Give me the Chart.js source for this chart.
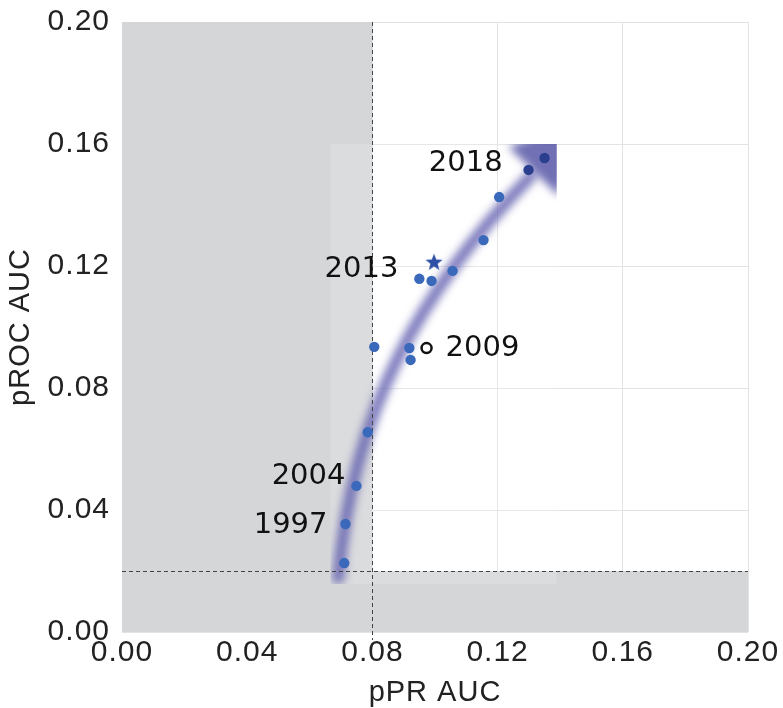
<!DOCTYPE html>
<html>
<head>
<meta charset="utf-8">
<script src="https://cdn.jsdelivr.net/npm/chart.js@4/dist/chart.umd.min.js"></script>
<style>
  html, body { margin: 0; padding: 0; background: #fff; }
  canvas { display: block; }
</style>
</head>
<body>
<canvas id="c" width="783" height="708"></canvas>
<script>
// Yearly benchmark results: pPR AUC (x) vs pROC AUC (y)
const pprAuc  = [0.0710, 0.0714, 0.0749, 0.0785, 0.0806, 0.0918, 0.0922, 0.0950, 0.0989, 0.1056, 0.1155, 0.1205, 0.1299, 0.1350];
const procAuc = [0.0226, 0.0354, 0.0479, 0.0655, 0.0935, 0.0931, 0.0892, 0.1158, 0.1151, 0.1184, 0.1285, 0.1426, 0.1515, 0.1554];

// Highlighted entries
const openX = [0.0973];
const openY = [0.0931];
const starX = [0.0997];
const starY = [0.1214];

// Random-baseline thresholds
const baselinePPR = 0.08;
const baselineROC = 0.02;

// Trend arrow: cubic Bezier control points (data coordinates) and its head
const trendX = [0.0691, 0.0736, 0.0954, 0.1306];
const trendY = [0.0177, 0.0728, 0.1121, 0.1495];
const headX = [0.1466, 0.1235, 0.1395];
const headY = [0.1679, 0.1590, 0.1430];
// Extent of the arrow inset
const insetX = [0.0666, 0.1389];
const insetY = [0.0157, 0.1600];

// Year annotations: text and which point they describe
const yearLabels = ['2018', '2013', '2009', '2004', '1997'];
const yearSource = [
  {set: 0, idx: 12}, {set: 0, idx: 7}, {set: 1, idx: 0}, {set: 0, idx: 2}, {set: 0, idx: 1}
];

const tickValues = [0, 0.04, 0.08, 0.12, 0.16, 0.20];

const pointsTable = pprAuc.map((x, i) => ({x, y: procAuc[i]}));
const openTable = openX.map((x, i) => ({x, y: openY[i]}));
const starTable = starX.map((x, i) => ({x, y: starY[i]}));

// filled five-point star as a point style
function makeStar(size, color) {
  const cv = document.createElement('canvas');
  cv.width = size; cv.height = size;
  const g = cv.getContext('2d');
  const cx = size / 2, cy = size / 2 + size * 0.05, R = size / 2, r = R * 0.42;
  g.beginPath();
  for (let k = 0; k < 10; k++) {
    const rad = k % 2 === 0 ? R : r;
    const a = -Math.PI / 2 + k * Math.PI / 5;
    const px = cx + rad * Math.cos(a), py = cy + rad * Math.sin(a);
    k === 0 ? g.moveTo(px, py) : g.lineTo(px, py);
  }
  g.closePath();
  g.fillStyle = color;
  g.fill();
  return cv;
}

// slightly spaced axis lettering
const spacing = {
  id: 'spacing',
  beforeDraw(chart) { chart.ctx.letterSpacing = '1px'; },
  beforeDatasetsDraw(chart) { chart.ctx.letterSpacing = '0px'; }
};

const backdrop = {
  id: 'backdrop',
  beforeDatasetsDraw(chart) {
    const {ctx, chartArea: a, scales: {x, y}} = chart;
    const X = v => x.getPixelForValue(v), Y = v => y.getPixelForValue(v);
    ctx.save();
    // shaded regions below the baselines
    ctx.fillStyle = '#d5d6d8';
    ctx.fillRect(a.left, a.top, X(baselinePPR) - a.left, a.bottom - a.top);
    ctx.fillRect(a.left, Y(baselineROC), a.right - a.left, a.bottom - Y(baselineROC));
    // arrow inset
    const ix0 = X(insetX[0]), ix1 = X(insetX[1]), iy0 = Y(insetY[1]), iy1 = Y(insetY[0]);
    ctx.fillStyle = 'rgba(255,255,255,0.16)';
    ctx.fillRect(ix0, iy0, ix1 - ix0, iy1 - iy0);
    ctx.beginPath();
    ctx.rect(ix0, iy0, ix1 - ix0, iy1 - iy0);
    ctx.clip();
    ctx.filter = 'blur(4px)';
    // shaft
    const p = trendX.map((v, i) => [X(v), Y(trendY[i])]);
    ctx.beginPath();
    ctx.moveTo(p[0][0], p[0][1]);
    ctx.bezierCurveTo(p[1][0], p[1][1], p[2][0], p[2][1], p[3][0], p[3][1]);
    ctx.strokeStyle = 'rgba(88,86,170,0.78)';
    ctx.lineWidth = 12;
    ctx.lineCap = 'round';
    ctx.stroke();
    // head
    ctx.beginPath();
    headX.forEach((v, i) => i === 0 ? ctx.moveTo(X(v), Y(headY[i])) : ctx.lineTo(X(v), Y(headY[i])));
    ctx.closePath();
    ctx.fillStyle = 'rgba(82,80,164,0.82)';
    ctx.fill();
    ctx.restore();

    // baseline dashed lines
    ctx.save();
    ctx.strokeStyle = '#444';
    ctx.lineWidth = 1;
    ctx.setLineDash([4, 3]);
    ctx.beginPath();
    ctx.moveTo(Math.round(X(baselinePPR)) + 0.5, a.top);
    ctx.lineTo(Math.round(X(baselinePPR)) + 0.5, a.bottom + 8);
    ctx.moveTo(a.left, Math.round(Y(baselineROC)) + 0.5);
    ctx.lineTo(a.right, Math.round(Y(baselineROC)) + 0.5);
    ctx.stroke();
    ctx.restore();
  },
  afterDatasetsDraw(chart, args, opts) {
    const {ctx} = chart;
    ctx.save();
    ctx.font = '29px "DejaVu Sans"';
    ctx.fillStyle = '#111';
    ctx.textBaseline = 'middle';
    yearLabels.forEach((t, i) => {
      const src = yearSource[i];
      const el = chart.getDatasetMeta(src.set).data[src.idx];
      const off = opts.offsets[i];
      ctx.textAlign = off.align;
      ctx.fillText(t, el.x + off.dx, el.y + off.dy);
    });
    ctx.restore();
  }
};

const tickFont = {family: '"Liberation Sans", Arial, sans-serif', size: 30};
const titleFont = {family: '"Liberation Sans", Arial, sans-serif', size: 29};

new Chart(document.getElementById('c'), {
  type: 'scatter',
  data: {
    datasets: [
      {
        data: pointsTable,
        pointRadius: 5.2,
        pointHoverRadius: 5.2,
        pointBackgroundColor: pointsTable.map((p, i) => i >= pointsTable.length - 2 ? '#2b3f8e' : '#3a68ba'),
        pointBorderWidth: 0
      },
      {
        data: openTable,
        pointRadius: 5,
        pointBackgroundColor: '#ffffff',
        pointBorderColor: '#111',
        pointBorderWidth: 2.5
      },
      {
        data: starTable,
        pointStyle: makeStar(18, '#2d4fa6')
      }
    ]
  },
  options: {
    responsive: false,
    animation: false,
    events: [],
    layout: {padding: {top: 22, right: 35, left: 0, bottom: 0}},
    plugins: {
      legend: {display: false},
      tooltip: {enabled: false},
      backdrop: {
        offsets: [
          {dx: -26, dy: -6, align: 'right'},
          {dx: -21, dy: -9, align: 'right'},
          {dx: 19, dy: 0, align: 'left'},
          {dx: -11, dy: -9, align: 'right'},
          {dx: -18, dy: 1, align: 'right'}
        ]
      }
    },
    scales: {
      x: {
        type: 'linear', min: 0, max: 0.2,
        afterBuildTicks(s) { s.ticks = tickValues.map(v => ({value: v})); },
        ticks: {font: tickFont, color: '#222', padding: 3, callback: v => v.toFixed(2), maxRotation: 0},
        grid: {color: '#e3e3e3', drawTicks: false},
        border: {display: false},
        title: {display: true, text: 'pPR AUC', font: titleFont, color: '#222', padding: {top: 0, bottom: -2}},
        afterFit(s) { s.height = 76; s.paddingLeft = 0; s.paddingRight = 0; }
      },
      y: {
        type: 'linear', min: 0, max: 0.2,
        afterBuildTicks(s) { s.ticks = tickValues.map(v => ({value: v})); },
        ticks: {font: tickFont, color: '#222', padding: 12, callback: v => v.toFixed(2)},
        grid: {color: '#e3e3e3', drawTicks: false},
        border: {display: false},
        title: {display: true, text: 'pROC AUC', font: titleFont, color: '#222', padding: {top: 4, bottom: 0}},
        afterFit(s) { s.width = 122; s.paddingTop = 0; s.paddingBottom = 0; }
      }
    }
  },
  plugins: [spacing, backdrop]
});
</script>
</body>
</html>
